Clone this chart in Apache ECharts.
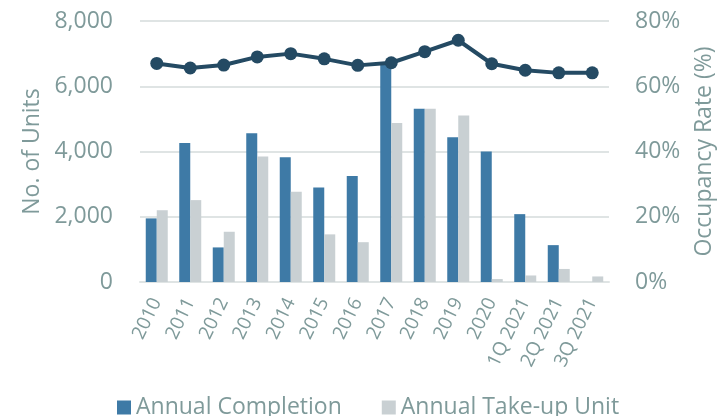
<!DOCTYPE html>
<html>
<head>
<meta charset="utf-8">
<script src="https://cdn.jsdelivr.net/npm/echarts@6/dist/echarts.min.js"></script>
<style>
  html, body { margin: 0; padding: 0; background: #fff; }
  #chart { width: 721px; height: 416px; }
</style>
</head>
<body>
<div id="chart"></div>
<script>
// categories and values
const categories = ['2010', '2011', '2012', '2013', '2014', '2015', '2016', '2017', '2018', '2019', '2020', '1Q 2021', '2Q 2021', '3Q 2021'];
const completion = [1950, 4260, 1060, 4560, 3820, 2900, 3250, 6700, 5310, 4440, 4000, 2080, 1130, 0];
const takeUp = [2200, 2510, 1540, 3850, 2770, 1460, 1220, 4870, 5310, 5100, 90, 200, 400, 170];
const occupancy = [67.0, 65.6, 66.5, 69.0, 70.0, 68.4, 66.4, 67.2, 70.6, 74.1, 66.9, 64.9, 64.1, 64.1];

const textColor = '#7f9a9a';
const font = 'Open Sans';

const chart = echarts.init(document.getElementById('chart'));
chart.setOption({
    animation: false,
    textStyle: { fontFamily: font },
    grid: { left: 140, right: 112, top: 21, bottom: 134, containLabel: false, outerBoundsMode: 'none' },
    legend: {
        bottom: -8,
        left: 112,
        itemWidth: 14,
        itemHeight: 14,
        itemGap: 40,
        icon: 'rect',
        textStyle: { color: textColor, fontSize: 23, fontFamily: font },
        data: ['Annual Completion', 'Annual Take-up Unit']
    },
    xAxis: {
        type: 'category',
        data: categories,
        axisLine: { show: true, lineStyle: { color: '#dfe4e4', width: 2 } },
        axisTick: { show: false },
        axisLabel: {
            color: textColor, fontSize: 19, rotate: 64, interval: 0, margin: 17,
            fontFamily: font
        }
    },
    yAxis: [
        {
            type: 'value', min: 0, max: 8000, interval: 2000,
            name: 'No. of Units', nameLocation: 'middle', nameRotate: 90, nameGap: 96,
            nameTextStyle: { color: textColor, fontSize: 23, fontFamily: font },
            axisLine: { show: false }, axisTick: { show: false },
            splitLine: { lineStyle: { color: '#dfe4e4', width: 2 } },
            axisLabel: {
                color: textColor, fontSize: 23, margin: 27, fontFamily: font,
                formatter: v => v.toLocaleString('en-US')
            }
        },
        {
            type: 'value', min: 0, max: 80, interval: 20,
            name: 'Occupancy Rate (%)', nameLocation: 'middle', nameRotate: 90, nameGap: 84,
            nameTextStyle: { color: textColor, fontSize: 23, fontFamily: font },
            axisLine: { show: false }, axisTick: { show: false },
            splitLine: { show: false },
            axisLabel: {
                color: textColor, fontSize: 23, margin: 26, fontFamily: font,
                formatter: '{value}%'
            }
        }
    ],
    series: [
        {
            name: 'Annual Completion', type: 'bar', data: completion,
            barWidth: 11, barGap: '0%',
            itemStyle: { color: '#3e7aa6' }
        },
        {
            name: 'Annual Take-up Unit', type: 'bar', data: takeUp,
            barWidth: 11, barGap: '0%',
            itemStyle: { color: '#c9d0d3' }
        },
        {
            name: 'Occupancy Rate', type: 'line', yAxisIndex: 1, data: occupancy,
            symbol: 'circle', symbolSize: 13,
            lineStyle: { color: '#244a63', width: 4 },
            itemStyle: { color: '#244a63' }
        }
    ]
});
</script>
</body>
</html>
